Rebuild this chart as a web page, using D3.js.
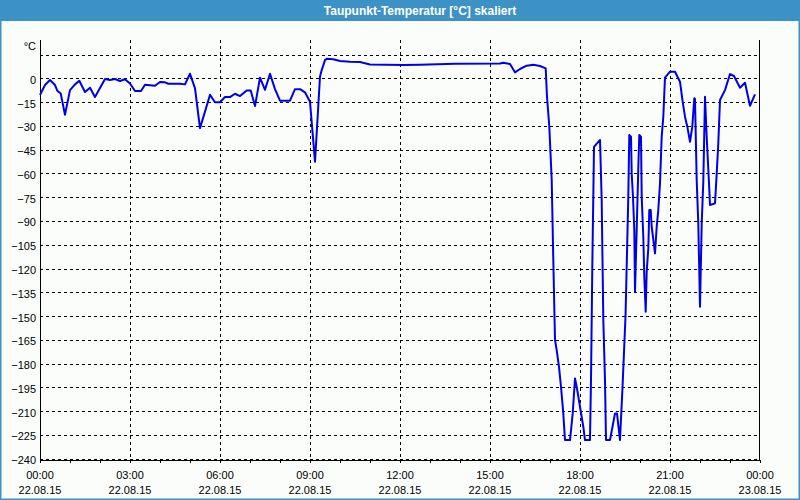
<!DOCTYPE html>
<html><head><meta charset="utf-8">
<script src="https://cdn.jsdelivr.net/npm/d3@7"></script>
<style>
html,body{margin:0;padding:0;background:#fbfdfb;}
svg{display:block;font-family:"Liberation Sans",Arial,sans-serif;}
</style></head>
<body><svg id="c" width="800" height="500"></svg>
<script>
const titleText = "Taupunkt-Temperatur [°C] skaliert";
const unitLabel = "°C";
const yTicks = [-240,-225,-210,-195,-180,-165,-150,-135,-120,-105,-90,-75,-60,-45,-30,-15,0];
const yGrid = [-240,-225,-210,-195,-180,-165,-150,-135,-120,-105,-90,-75,-60,-45,-30,-15,0,15];
const xTickHours = [0,3,6,9,12,15,18,21,24];
const xTimeLabels = ["00:00","03:00","06:00","09:00","12:00","15:00","18:00","21:00","00:00"];
const xDateLabels = ["22.08.15","22.08.15","22.08.15","22.08.15","22.08.15","22.08.15","22.08.15","22.08.15","23.08.15"];
const hours = [0,0.167,0.333,0.5,0.577,0.69,0.833,1,1.167,1.31,1.5,1.667,1.833,2.167,2.333,2.5,2.667,2.833,3,3.167,3.367,3.5,3.833,4,4.167,4.277,4.667,4.833,5,5.167,5.333,5.5,5.667,5.833,6,6.167,6.333,6.5,6.667,6.89,7.023,7.167,7.333,7.5,7.667,7.833,8,8.333,8.5,8.667,8.833,9,9.167,9.333,9.39,9.5,9.557,9.777,10,10.333,10.667,11,12.1,12.667,13.833,15.333,15.443,15.667,15.833,16,16.223,16.443,16.667,16.857,16.9,16.977,17.057,17.11,17.167,17.223,17.3,17.367,17.443,17.5,17.667,17.757,17.833,17.89,18,18.11,18.167,18.333,18.367,18.41,18.467,18.567,18.667,18.723,18.777,18.833,18.867,19,19.167,19.233,19.333,19.417,19.517,19.567,19.61,19.643,19.7,19.723,19.767,19.81,19.833,19.89,19.943,19.977,20.033,20.057,20.11,20.143,20.19,20.223,20.277,20.31,20.357,20.39,20.5,20.557,20.61,20.667,20.723,20.777,20.833,21,21.167,21.333,21.423,21.5,21.577,21.667,21.743,21.81,21.833,21.89,21.943,22,22.057,22.11,22.167,22.223,22.3,22.333,22.5,22.557,22.61,22.667,22.833,23,23.133,23.333,23.5,23.667,23.833];
const temps = [-10.5,-4.2,-1,-4.2,-7.8,-9.5,-23,-7.4,-3.8,-1.5,-8.6,-5.9,-11.8,-0.4,-1,-0.4,-1.7,-0.6,-3.2,-8,-8,-4,-4.7,-2.3,-2.5,-3.4,-3.4,-3.8,2.9,-6.3,-31.4,-21,-10.3,-15.1,-15.1,-11.8,-11.8,-9.7,-11.2,-7.6,-7.6,-17.5,0.4,-7.2,2.9,-6.8,-14.1,-14.1,-6.8,-6.8,-8.8,-14.8,-52.6,1.0,5.2,11.5,12.4,12,10.9,10.5,10.3,8.8,8.4,8.6,9.2,9.4,9.8,9,3.8,5.9,8,8.6,7.8,6.3,-11.6,-30.5,-64,-114.6,-165,-171.5,-182,-194.6,-211.4,-228.2,-228.2,-211.4,-189.3,-194.6,-207.2,-219.8,-228.2,-228.2,-190,-119,-43.2,-41,-38.9,-76.8,-152.5,-190.4,-228.2,-228.2,-211.4,-211.4,-228.2,-195,-150,-110,-74.7,-35.8,-36.8,-60,-75,-95.7,-134.6,-95,-56.8,-35.8,-36.8,-74.7,-99.9,-125.2,-147.3,-122,-107.3,-83.1,-83.1,-93.6,-110.4,-93.6,-83.1,-66.2,-36.8,-24.2,0.5,4.2,4.2,-2.1,-14.8,-24.2,-30.5,-40,-30.5,-12.6,-13,-64.2,-91.5,-144.1,-91.5,-65.2,-11.6,-36.8,-66.2,-79.9,-78.9,-60,-41,-13.7,-7.4,2.7,1.5,-5.9,-2.8,-17.3,-10.1];

const svg = d3.select("#c");
const W = 800, H = 500;
const L = 40, R = 760, T = 40, B = 460;
const frame = "#3d92c5";

svg.append("rect").attr("width",W).attr("height",H).attr("fill","#fbfdfb");
svg.append("rect").attr("x",0).attr("y",0).attr("width",W).attr("height",21).attr("fill",frame);
svg.append("rect").attr("x",0.5).attr("y",0.5).attr("width",W-1).attr("height",H-1).attr("fill","none").attr("stroke",frame).attr("stroke-width",1);
svg.append("rect").attr("x",1.5).attr("y",1.5).attr("width",W-3).attr("height",H-3).attr("fill","none").attr("stroke",frame).attr("stroke-width",1).attr("opacity",0.5);
svg.append("text").attr("x",420).attr("y",15).attr("text-anchor","middle").attr("fill","#fff")
  .attr("font-weight","bold").attr("font-size",12).text(titleText);

const x = d3.scaleLinear().domain([0,24]).range([L,R]);
const y = d3.scaleLinear().domain([-240.8,24.2]).range([B,T]);

// grid
const g = svg.append("g");
g.selectAll("line.h").data(yGrid).enter().append("line")
  .attr("x1",L).attr("x2",R).attr("y1",d=>Math.round(y(d))+0.5).attr("y2",d=>Math.round(y(d))+0.5)
  .attr("stroke","#000").attr("stroke-dasharray","3,3").attr("stroke-width",1);
g.selectAll("line.v").data(xTickHours.filter(h=>h>0&&h<24)).enter().append("line")
  .attr("y1",T).attr("y2",B).attr("x1",d=>Math.round(x(d))+0.5).attr("x2",d=>Math.round(x(d))+0.5)
  .attr("stroke","#000").attr("stroke-dasharray","3,3").attr("stroke-width",1);

// axes
const xAxis = d3.axisBottom(x).tickValues(d3.range(0,25,1)).tickSize(3).tickSizeOuter(0).tickFormat("");
const gx = svg.append("g").attr("transform",`translate(0,${B})`).call(xAxis);
gx.selectAll("line,path").attr("stroke","#000");
const yAxis = d3.axisLeft(y).tickValues(yTicks).tickSize(0).tickPadding(4);
const gy = svg.append("g").attr("transform",`translate(${L},0)`).call(yAxis);
gy.select("path").remove();
gy.selectAll("text").attr("font-size",11).attr("fill","#000").attr("font-family","Liberation Sans, Arial, sans-serif").attr("dy","0.45em");
svg.append("line").attr("x1",L+0.5).attr("x2",L+0.5).attr("y1",T).attr("y2",B+1).attr("stroke","#000");
svg.append("line").attr("x1",R-0.5).attr("x2",R-0.5).attr("y1",T).attr("y2",B).attr("stroke","#000");
svg.append("text").attr("x",L-4).attr("y",50).attr("text-anchor","end").attr("font-size",11).text(unitLabel);

// x labels
const xl = svg.append("g").attr("font-size",11).attr("text-anchor","middle").attr("fill","#000");
xTickHours.forEach((h,i)=>{
  xl.append("text").attr("x",x(h)).attr("y",479).text(xTimeLabels[i]);
  xl.append("text").attr("x",x(h)).attr("y",494).text(xDateLabels[i]);
});

// line
const data = hours.map((h,i)=>({h, v: temps[i]}));
svg.append("path").datum(data)
  .attr("fill","none").attr("stroke","#0000e6").attr("stroke-width",2).attr("stroke-linejoin","round")
  .attr("d", d3.line().x(d=>x(d.h)).y(d=>y(d.v)));
</script></body></html>
